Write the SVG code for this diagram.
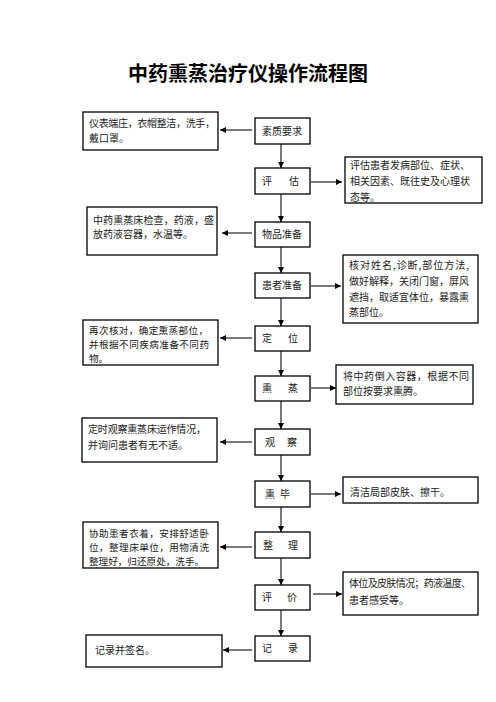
<svg xmlns="http://www.w3.org/2000/svg" width="496" height="702" viewBox="0 0 496 702">
<defs>
<marker id="ah" markerWidth="6" markerHeight="6" refX="6" refY="3" orient="auto" markerUnits="userSpaceOnUse">
<path d="M0,0 L6,3 L0,6 z" fill="#000"/>
</marker>
<style>
.box{fill:#fff;stroke:#000;stroke-width:1.3}
.t{font-family:"Noto Sans CJK SC","Liberation Serif",serif;font-size:10px;fill:#222}
.s{font-size:9.6px}
.ttl{font-family:"Noto Sans CJK SC","Liberation Sans",sans-serif;font-size:20px;font-weight:bold;fill:#000}
.c{stroke:#7a7a7a;stroke-width:2;fill:none;marker-end:url(#ah)}
</style>
</defs>
<rect width="496" height="702" fill="#fff"/>
<text class="ttl" x="248" y="81" text-anchor="middle">中药熏蒸治疗仪操作流程图</text>

<g id="connectors">
<line class="c" x1="281" y1="144" x2="281" y2="168"/>
<line class="c" x1="281" y1="194" x2="281" y2="222"/>
<line class="c" x1="281" y1="247" x2="281" y2="273"/>
<line class="c" x1="281" y1="298" x2="281" y2="326"/>
<line class="c" x1="281" y1="351" x2="281" y2="376"/>
<line class="c" x1="281" y1="401" x2="281" y2="429"/>
<line class="c" x1="281" y1="455" x2="281" y2="481"/>
<line class="c" x1="281" y1="507" x2="281" y2="532"/>
<line class="c" x1="281" y1="558" x2="281" y2="585"/>
<line class="c" x1="281" y1="610" x2="281" y2="636"/>
<line class="c" x1="252" y1="130" x2="220" y2="130"/>
<line class="c" x1="252" y1="233" x2="222" y2="233"/>
<line class="c" x1="252" y1="338" x2="220" y2="338"/>
<line class="c" x1="252" y1="442" x2="220" y2="442"/>
<line class="c" x1="252" y1="547" x2="220" y2="547"/>
<line class="c" x1="252" y1="650" x2="223" y2="650"/>
<line class="c" x1="311" y1="182" x2="342" y2="182"/>
<line class="c" x1="311" y1="286" x2="341" y2="286"/>
<line class="c" x1="311" y1="388" x2="336" y2="388"/>
<line class="c" x1="311" y1="494" x2="341" y2="494"/>
<line class="c" x1="313" y1="594" x2="342" y2="594"/>
</g>

<g id="n1"><rect class="box" x="255" y="118" width="55" height="26"/><text class="t" x="262" y="134.5">素质要求</text></g>
<g id="n2"><rect class="box" x="255" y="168" width="55" height="26"/><text class="t" x="262" y="184.5">评</text><text class="t" x="289" y="184.5">估</text></g>
<g id="n3"><rect class="box" x="255" y="222" width="55" height="25"/><text class="t" x="262" y="238">物品准备</text></g>
<g id="n4"><rect class="box" x="255" y="273" width="55" height="25"/><text class="t" x="262" y="289">患者准备</text></g>
<g id="n5"><rect class="box" x="255" y="326" width="55" height="25"/><text class="t" x="262" y="342">定</text><text class="t" x="288" y="342">位</text></g>
<g id="n6"><rect class="box" x="255" y="376" width="55" height="25"/><text class="t" x="262" y="392">熏</text><text class="t" x="288" y="392">蒸</text></g>
<g id="n7"><rect class="box" x="255" y="429" width="55" height="26"/><text class="t" x="265" y="445.5">观</text><text class="t" x="287" y="445.5">察</text></g>
<g id="n8"><rect class="box" x="255" y="481" width="55" height="26"/><text class="t" x="265" y="497.5">熏</text><text class="t" x="280" y="497.5">毕</text></g>
<g id="n9"><rect class="box" x="255" y="532" width="55" height="26"/><text class="t" x="263" y="548.5">整</text><text class="t" x="288" y="548.5">理</text></g>
<g id="n10"><rect class="box" x="255" y="585" width="55" height="25"/><text class="t" x="262" y="601">评</text><text class="t" x="287" y="601">价</text></g>
<g id="n11"><rect class="box" x="255" y="636" width="55" height="25"/><text class="t" x="262" y="652">记</text><text class="t" x="288" y="652">录</text></g>

<g id="l1"><rect class="box" x="83" y="112" width="135" height="38"/><text class="t" x="89" y="126.5" textLength="126">仪表端庄，衣帽整洁，洗手，</text><text class="t" x="89" y="141.5">戴口罩。</text></g>
<g id="l2"><rect class="box" x="87" y="207" width="130" height="48"/><text class="t" x="93" y="223.5" textLength="121">中药熏蒸床检查，药液，盛</text><text class="t" x="93" y="238">放药液容器，水温等。</text></g>
<g id="l3"><rect class="box" x="83" y="320" width="135" height="45"/><text class="t s" x="89" y="334" textLength="119">再次核对，确定熏蒸部位，</text><text class="t s" x="89" y="348" textLength="120">并根据不同疾病准备不同药</text><text class="t s" x="89" y="362">物。</text></g>
<g id="l4"><rect class="box" x="82" y="418" width="135" height="44"/><text class="t" x="88" y="432.5" textLength="118">定时观察熏蒸床运作情况，</text><text class="t" x="88" y="448.5">并询问患者有无不适。</text></g>
<g id="l5"><rect class="box" x="83" y="522" width="135" height="46"/><text class="t s" x="89" y="537" textLength="120">协助患者衣着，安排舒适卧</text><text class="t s" x="89" y="551" textLength="120">位，整理床单位，用物清洗</text><text class="t s" x="89" y="565">整理好，归还原处，洗手。</text></g>
<g id="l6"><rect class="box" x="86" y="635" width="136" height="32"/><text class="t" x="95" y="653.5">记录并签名。</text></g>

<g id="r1"><rect class="box" x="345" y="157" width="137" height="46"/><text class="t" x="350" y="168.5" textLength="120">评估患者发病部位、症状、</text><text class="t" x="350" y="185" textLength="120">相关因素、既往史及心理状</text><text class="t" x="350" y="201">态等。</text></g>
<g id="r2"><rect class="box" x="343" y="255" width="135" height="68"/><text class="t" x="349" y="268.5" textLength="120">核对姓名,诊断,部位方法,</text><text class="t" x="349" y="284.5" textLength="120">做好解释，关闭门窗，屏风</text><text class="t" x="349" y="300.5" textLength="120">遮挡，取适宜体位，暴露熏</text><text class="t" x="349" y="316">蒸部位。</text></g>
<g id="r3"><rect class="box" x="336" y="365" width="137" height="39"/><text class="t" x="343" y="380" textLength="126">将中药倒入容器，根据不同</text><text class="t" x="343" y="394.5">部位按要求熏腾。</text></g>
<g id="r4"><rect class="box" x="343" y="477" width="135" height="26"/><text class="t" x="350" y="495.5">清洁局部皮肤、擦干。</text></g>
<g id="r5"><rect class="box" x="343" y="572" width="135" height="43"/><text class="t" x="349" y="586.5" textLength="122">体位及皮肤情况；药液温度、</text><text class="t" x="349" y="603.5">患者感受等。</text></g>
</svg>
